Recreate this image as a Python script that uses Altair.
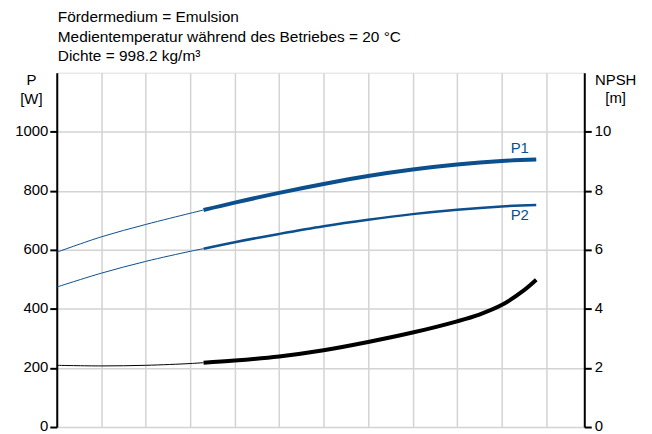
import altair as alt
import pandas as pd

# Data
X = [0, 1, 2, 3, 3.3, 4, 5, 6, 7, 8, 9, 10, 10.78]
P1 = [592, 644, 686, 724, 735, 760, 793, 823, 850, 872, 889, 901, 906]
P2 = [474, 521, 561, 595, 604, 626, 654, 680, 702, 721, 736, 747, 752]
XN = [0, 1, 2, 3, 3.3, 4, 5, 6, 7, 8, 9, 9.5, 10, 10.5, 10.78]
NPSH = [2.09, 2.07, 2.09, 2.15, 2.18, 2.25, 2.39, 2.60, 2.88, 3.20, 3.58, 3.81, 4.13, 4.63, 4.99]
SPLIT = 4  # index where the operating range (thick line) begins

title_lines = ["Fördermedium = Emulsion",
               "Medientemperatur während des Betriebes = 20 °C",
               "Dichte = 998.2 kg/m³"]
label_names = ["P1", "P2"]
label_x = [10.41, 10.41]
label_y = [945, 717]

BLUE = "#0b4f8d"
FONT = "Liberation Sans"

def seg(xs, ys, name, part):
    return [{"x": a, "v": b, "series": name, "part": part} for a, b in zip(xs, ys)]

rows = []
for name, xs, ys in (("P1", X, P1), ("P2", X, P2), ("NPSH", XN, NPSH)):
    rows += seg(xs[:SPLIT + 1], ys[:SPLIT + 1], name, "thin")
    rows += seg(xs[SPLIT:], ys[SPLIT:], name, "thick")
df = pd.DataFrame(rows)
labels = pd.DataFrame({"name": label_names, "x": label_x, "v": label_y})

xscale = alt.Scale(domain=[0, 11.86], nice=False, zero=False)
xaxis = alt.Axis(values=list(range(0, 12)), labels=False, ticks=False, domain=False,
                 title=None, grid=True, gridColor="#d3d3d3", gridWidth=1.5)

yP = alt.Scale(domain=[0, 1200], nice=False)
yN = alt.Scale(domain=[0, 12], nice=False)

axP = alt.Axis(values=[0, 200, 400, 600, 800, 1000], format="d", grid=True,
               gridColor="#d3d3d3", gridWidth=1.5, domain=True, domainColor="black",
               domainWidth=2, tickColor="black", tickWidth=2, tickSize=7, labelPadding=2,
               labelFontSize=15, labelFont=FONT, labelColor="black", labelOffset=-1.5,
               title=["P", "[W]"], titleAngle=0, titleAlign="center",
               titleBaseline="top", titleX=-26, titleY=0, titleFontSize=15,
               titleFont=FONT, titleFontWeight="normal", titleColor="black",
               titleLineHeight=19)
axN = alt.Axis(orient="right", values=[0, 2, 4, 6, 8, 10], format="d", grid=False,
               domain=True, domainColor="black", domainWidth=2,
               tickColor="black", tickWidth=2, tickSize=7, labelPadding=3,
               labelFontSize=15, labelFont=FONT, labelColor="black", labelOffset=-1.5,
               title=["NPSH", "[m]"], titleAngle=0, titleAlign="center",
               titleBaseline="top", titleX=31, titleY=0, titleFontSize=15,
               titleFont=FONT, titleFontWeight="normal", titleColor="black",
               titleLineHeight=18)

def line(series, part, color, width, yscale, yaxis):
    d = df[(df.series == series) & (df.part == part)]
    return alt.Chart(d).mark_line(color=color, strokeWidth=width,
                                  interpolate="catmull-rom", strokeCap="butt").encode(
        x=alt.X("x:Q", scale=xscale, axis=xaxis),
        y=alt.Y("v:Q", scale=yscale, axis=yaxis),
    )

left = alt.layer(
    line("P1", "thin", BLUE, 1, yP, axP),
    line("P1", "thick", BLUE, 4, yP, axP),
    line("P2", "thin", BLUE, 1, yP, axP),
    line("P2", "thick", BLUE, 2.5, yP, axP),
    alt.Chart(labels).mark_text(color=BLUE, fontSize=15, font=FONT, align="center",
                                baseline="middle").encode(
        x=alt.X("x:Q", scale=xscale, axis=xaxis),
        y=alt.Y("v:Q", scale=yP, axis=axP),
        text="name:N"),
)
right = alt.layer(
    line("NPSH", "thin", "black", 1, yN, axN),
    line("NPSH", "thick", "black", 4, yN, axN),
)

chart = alt.layer(left, right).resolve_scale(y="independent").properties(
    width=530, height=356,
    autosize=alt.AutoSizeParams(type="none"),
    padding={"left": 49, "top": 64, "right": 60, "bottom": 6},
    title=alt.Title(title_lines, anchor="start", fontSize=15.5, font=FONT,
                    fontWeight="normal", color="black", lineHeight=19.5,
                    offset=8, frame="group", dx=1),
).configure_view(stroke="black", strokeWidth=2).configure(background="white")

chart.save("out.html", embed_options={"renderer": "svg", "actions": False})
